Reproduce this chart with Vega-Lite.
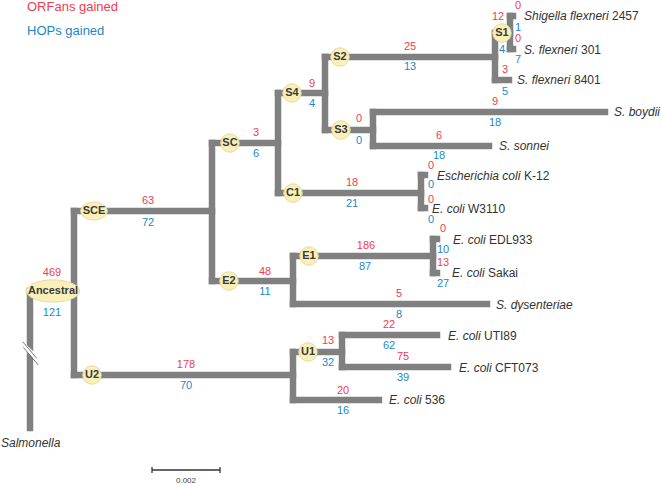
{
  "$schema": "https://vega.github.io/schema/vega-lite/v6.json",
  "autosize": {"type": "fit", "contains": "padding"},
  "padding": 0,
  "width": 661,
  "height": 486,
  "background": "white",
  "config": {"view": {"stroke": null}},
  "datasets": {
    "branches": [
      {"x": 30, "y": 291, "x2": 30, "y2": 428},
      {"x": 30, "y": 291, "x2": 74, "y2": 291},
      {"x": 74, "y": 211, "x2": 74, "y2": 375},
      {"x": 74, "y": 211, "x2": 212, "y2": 211},
      {"x": 212, "y": 143, "x2": 212, "y2": 281},
      {"x": 212, "y": 143, "x2": 278, "y2": 143},
      {"x": 278, "y": 93, "x2": 278, "y2": 193},
      {"x": 278, "y": 93, "x2": 325, "y2": 93},
      {"x": 325, "y": 57, "x2": 325, "y2": 130},
      {"x": 325, "y": 57, "x2": 495, "y2": 57},
      {"x": 495, "y": 33, "x2": 495, "y2": 80},
      {"x": 495, "y": 80, "x2": 509, "y2": 80},
      {"x": 495, "y": 33, "x2": 510, "y2": 33},
      {"x": 510, "y": 16, "x2": 510, "y2": 49},
      {"x": 510, "y": 16, "x2": 513, "y2": 16},
      {"x": 510, "y": 49, "x2": 513, "y2": 49},
      {"x": 325, "y": 130, "x2": 373, "y2": 130},
      {"x": 373, "y": 112, "x2": 373, "y2": 146},
      {"x": 373, "y": 112, "x2": 605, "y2": 112},
      {"x": 373, "y": 146, "x2": 489, "y2": 146},
      {"x": 278, "y": 193, "x2": 421, "y2": 193},
      {"x": 421, "y": 175, "x2": 421, "y2": 208},
      {"x": 421, "y": 175, "x2": 425, "y2": 175},
      {"x": 421, "y": 208, "x2": 425, "y2": 208},
      {"x": 212, "y": 281, "x2": 293, "y2": 281},
      {"x": 293, "y": 256, "x2": 293, "y2": 304},
      {"x": 293, "y": 256, "x2": 433, "y2": 256},
      {"x": 433, "y": 239, "x2": 433, "y2": 273},
      {"x": 433, "y": 239, "x2": 437, "y2": 239},
      {"x": 433, "y": 273, "x2": 437, "y2": 273},
      {"x": 293, "y": 304, "x2": 487, "y2": 304},
      {"x": 74, "y": 375, "x2": 293, "y2": 375},
      {"x": 293, "y": 352, "x2": 293, "y2": 400},
      {"x": 293, "y": 352, "x2": 342, "y2": 352},
      {"x": 342, "y": 335, "x2": 342, "y2": 367},
      {"x": 342, "y": 335, "x2": 437, "y2": 335},
      {"x": 342, "y": 367, "x2": 448, "y2": 367},
      {"x": 293, "y": 400, "x2": 379, "y2": 400}
    ],
    "nodes": [
      {"name": "Ancestral", "x": 53, "y": 291},
      {"name": "SCE", "x": 94, "y": 211},
      {"name": "SC", "x": 230, "y": 143},
      {"name": "S4", "x": 292, "y": 93},
      {"name": "S2", "x": 340, "y": 57},
      {"name": "S3", "x": 341, "y": 130},
      {"name": "S1", "x": 502, "y": 33},
      {"name": "C1", "x": 293, "y": 193},
      {"name": "E2", "x": 229, "y": 281},
      {"name": "E1", "x": 309, "y": 256},
      {"name": "U2", "x": 92, "y": 375},
      {"name": "U1", "x": 308, "y": 352}
    ],
    "counts": [
      {"type": "ORFans", "value": "469", "x": 52, "y": 273},
      {"type": "ORFans", "value": "63", "x": 148, "y": 201},
      {"type": "ORFans", "value": "3", "x": 256, "y": 133},
      {"type": "ORFans", "value": "9", "x": 312, "y": 84},
      {"type": "ORFans", "value": "25", "x": 410, "y": 47},
      {"type": "ORFans", "value": "12", "x": 498, "y": 17},
      {"type": "ORFans", "value": "0", "x": 518, "y": 6},
      {"type": "ORFans", "value": "0", "x": 518, "y": 39},
      {"type": "ORFans", "value": "3", "x": 505, "y": 70},
      {"type": "ORFans", "value": "9", "x": 495, "y": 102},
      {"type": "ORFans", "value": "6", "x": 439, "y": 136},
      {"type": "ORFans", "value": "0", "x": 359, "y": 119},
      {"type": "ORFans", "value": "18", "x": 352, "y": 183},
      {"type": "ORFans", "value": "0", "x": 431, "y": 166},
      {"type": "ORFans", "value": "0", "x": 431, "y": 200},
      {"type": "ORFans", "value": "48", "x": 265, "y": 272},
      {"type": "ORFans", "value": "186", "x": 366, "y": 246},
      {"type": "ORFans", "value": "0", "x": 443, "y": 229},
      {"type": "ORFans", "value": "13", "x": 443, "y": 263},
      {"type": "ORFans", "value": "5", "x": 399, "y": 294},
      {"type": "ORFans", "value": "13", "x": 328, "y": 341},
      {"type": "ORFans", "value": "22", "x": 389, "y": 325},
      {"type": "ORFans", "value": "75", "x": 403, "y": 357},
      {"type": "ORFans", "value": "20", "x": 343, "y": 391},
      {"type": "ORFans", "value": "178", "x": 186, "y": 365},
      {"type": "HOPs", "value": "121", "x": 52, "y": 313},
      {"type": "HOPs", "value": "72", "x": 148, "y": 223},
      {"type": "HOPs", "value": "6", "x": 256, "y": 154},
      {"type": "HOPs", "value": "4", "x": 312, "y": 104},
      {"type": "HOPs", "value": "13", "x": 410, "y": 67},
      {"type": "HOPs", "value": "1", "x": 518, "y": 28},
      {"type": "HOPs", "value": "4", "x": 502, "y": 50},
      {"type": "HOPs", "value": "7", "x": 518, "y": 60},
      {"type": "HOPs", "value": "5", "x": 505, "y": 92},
      {"type": "HOPs", "value": "18", "x": 495, "y": 123},
      {"type": "HOPs", "value": "18", "x": 439, "y": 156},
      {"type": "HOPs", "value": "0", "x": 359, "y": 141},
      {"type": "HOPs", "value": "21", "x": 352, "y": 204},
      {"type": "HOPs", "value": "0", "x": 431, "y": 185},
      {"type": "HOPs", "value": "0", "x": 431, "y": 220},
      {"type": "HOPs", "value": "11", "x": 265, "y": 292},
      {"type": "HOPs", "value": "87", "x": 365, "y": 267},
      {"type": "HOPs", "value": "10", "x": 443, "y": 250},
      {"type": "HOPs", "value": "27", "x": 443, "y": 284},
      {"type": "HOPs", "value": "8", "x": 399, "y": 315},
      {"type": "HOPs", "value": "32", "x": 328, "y": 363},
      {"type": "HOPs", "value": "62", "x": 389, "y": 346},
      {"type": "HOPs", "value": "39", "x": 403, "y": 378},
      {"type": "HOPs", "value": "16", "x": 343, "y": 411},
      {"type": "HOPs", "value": "70", "x": 186, "y": 386}
    ],
    "legend": [
      {"type": "ORFans", "value": "ORFans gained", "x": 27, "y": 7},
      {"type": "HOPs", "value": "HOPs gained", "x": 27, "y": 31}
    ],
    "taxa": [
      {"name": "Shigella flexneri", "strain": "2457", "x": 524, "sx": 612, "y": 16},
      {"name": "S. flexneri", "strain": "301", "x": 524, "sx": 581, "y": 50},
      {"name": "S. flexneri", "strain": "8401", "x": 517, "sx": 574, "y": 80},
      {"name": "S. boydii", "strain": null, "x": 614, "sx": null, "y": 112},
      {"name": "S. sonnei", "strain": null, "x": 499, "sx": null, "y": 146},
      {"name": "Escherichia coli", "strain": "K-12", "x": 437, "sx": 524, "y": 176},
      {"name": "E. coli", "strain": "W3110", "x": 432, "sx": 468, "y": 209},
      {"name": "E. coli", "strain": "EDL933", "x": 453, "sx": 489, "y": 240},
      {"name": "E. coli", "strain": "Sakai", "x": 452, "sx": 488, "y": 273},
      {"name": "S. dysenteriae", "strain": null, "x": 496, "sx": null, "y": 305},
      {"name": "E. coli", "strain": "UTI89", "x": 448, "sx": 484, "y": 336},
      {"name": "E. coli", "strain": "CFT073", "x": 459, "sx": 495, "y": 368},
      {"name": "E. coli", "strain": "536", "x": 389, "sx": 425, "y": 400},
      {"name": "Salmonella", "strain": null, "x": 1, "sx": null, "y": 443}
    ],
    "scalebar": [
      {"x": 152, "y": 470, "x2": 220, "y2": 470},
      {"x": 152, "y": 467, "x2": 152, "y2": 473},
      {"x": 220, "y": 467, "x2": 220, "y2": 473}
    ],
    "breaks": [
      {"x": 22.7, "y": 341.7, "x2": 36.7, "y2": 358.3},
      {"x": 23.3, "y": 347.3, "x2": 38.3, "y2": 365}
    ]
  },
  "encoding": {
    "x": {"field": "x", "type": "quantitative", "axis": null, "scale": {"domain": [0, 661], "nice": false, "zero": false}},
    "y": {"field": "y", "type": "quantitative", "axis": null, "scale": {"domain": [0, 486], "nice": false, "zero": false, "reverse": true}}
  },
  "layer": [
    {
      "data": {"name": "branches"},
      "mark": {"type": "rule", "strokeWidth": 6.5, "color": "#808080", "strokeCap": "square"},
      "encoding": {"x2": {"field": "x2"}, "y2": {"field": "y2"}}
    },
    {
      "data": {"name": "breaks"},
      "transform": [{"filter": "datum.x < 23"}],
      "mark": {"type": "rule", "strokeWidth": 5, "color": "white"},
      "encoding": {"x2": {"field": "x2"}, "y2": {"field": "y2"}, "yOffset": {"value": 2.8}}
    },
    {
      "data": {"name": "breaks"},
      "mark": {"type": "rule", "strokeWidth": 0.8, "color": "#555555"},
      "encoding": {"x2": {"field": "x2"}, "y2": {"field": "y2"}}
    },
    {
      "data": {"name": "nodes"},
      "transform": [{"filter": "datum.name !== 'Ancestral' && datum.name !== 'SCE'"}],
      "mark": {"type": "point", "shape": "circle", "filled": true, "size": 340, "fill": "#f8f0b8", "stroke": "#e6dca0", "strokeWidth": 1, "opacity": 1}
    },
    {
      "data": {"name": "nodes"},
      "transform": [{"filter": "datum.name === 'Ancestral'"}],
      "mark": {"type": "point", "shape": "M-1,0A1,0.42,0,1,0,1,0A1,0.42,0,1,0,-1,0Z", "filled": true, "size": 2800, "fill": "#f8f0b8", "stroke": "#e6dca0", "strokeWidth": 1, "opacity": 1}
    },
    {
      "data": {"name": "nodes"},
      "transform": [{"filter": "datum.name === 'SCE'"}],
      "mark": {"type": "point", "shape": "M-1,0A1,0.68,0,1,0,1,0A1,0.68,0,1,0,-1,0Z", "filled": true, "size": 700, "fill": "#f8f0b8", "stroke": "#e6dca0", "strokeWidth": 1, "opacity": 1}
    },
    {
      "data": {"name": "nodes"},
      "mark": {"type": "text", "font": "Liberation Sans", "fontSize": 11, "fontWeight": "bold", "color": "#3a3a3a", "align": "center", "baseline": "middle"},
      "encoding": {"text": {"field": "name"}}
    },
    {
      "data": {"name": "counts"},
      "mark": {"type": "text", "font": "Liberation Sans", "fontSize": 11, "align": "center", "baseline": "middle"},
      "encoding": {
        "text": {"field": "value"},
        "color": {"field": "type", "type": "nominal", "legend": null, "scale": {"domain": ["ORFans", "HOPs"], "range": ["#ee3d52", "#1a88c9"]}}
      }
    },
    {
      "data": {"name": "legend"},
      "mark": {"type": "text", "font": "Liberation Sans", "fontSize": 13, "align": "left", "baseline": "middle"},
      "encoding": {
        "text": {"field": "value"},
        "color": {"field": "type", "type": "nominal", "legend": null}
      }
    },
    {
      "data": {"name": "taxa"},
      "mark": {"type": "text", "font": "Liberation Sans", "fontSize": 12, "fontStyle": "italic", "color": "#333333", "align": "left", "baseline": "middle"},
      "encoding": {"text": {"field": "name"}}
    },
    {
      "data": {"name": "taxa"},
      "transform": [{"filter": "datum.strain != null"}],
      "mark": {"type": "text", "font": "Liberation Sans", "fontSize": 12, "color": "#333333", "align": "left", "baseline": "middle"},
      "encoding": {"x": {"field": "sx", "type": "quantitative"}, "text": {"field": "strain"}}
    },
    {
      "data": {"name": "scalebar"},
      "mark": {"type": "rule", "strokeWidth": 1.3, "color": "#333333"},
      "encoding": {"x2": {"field": "x2"}, "y2": {"field": "y2"}}
    },
    {
      "data": {"values": [{"label": "0.002", "x": 186, "y": 481}]},
      "mark": {"type": "text", "font": "Liberation Sans", "fontSize": 8, "color": "#444444", "align": "center", "baseline": "middle"},
      "encoding": {"text": {"field": "label"}}
    }
  ]
}
